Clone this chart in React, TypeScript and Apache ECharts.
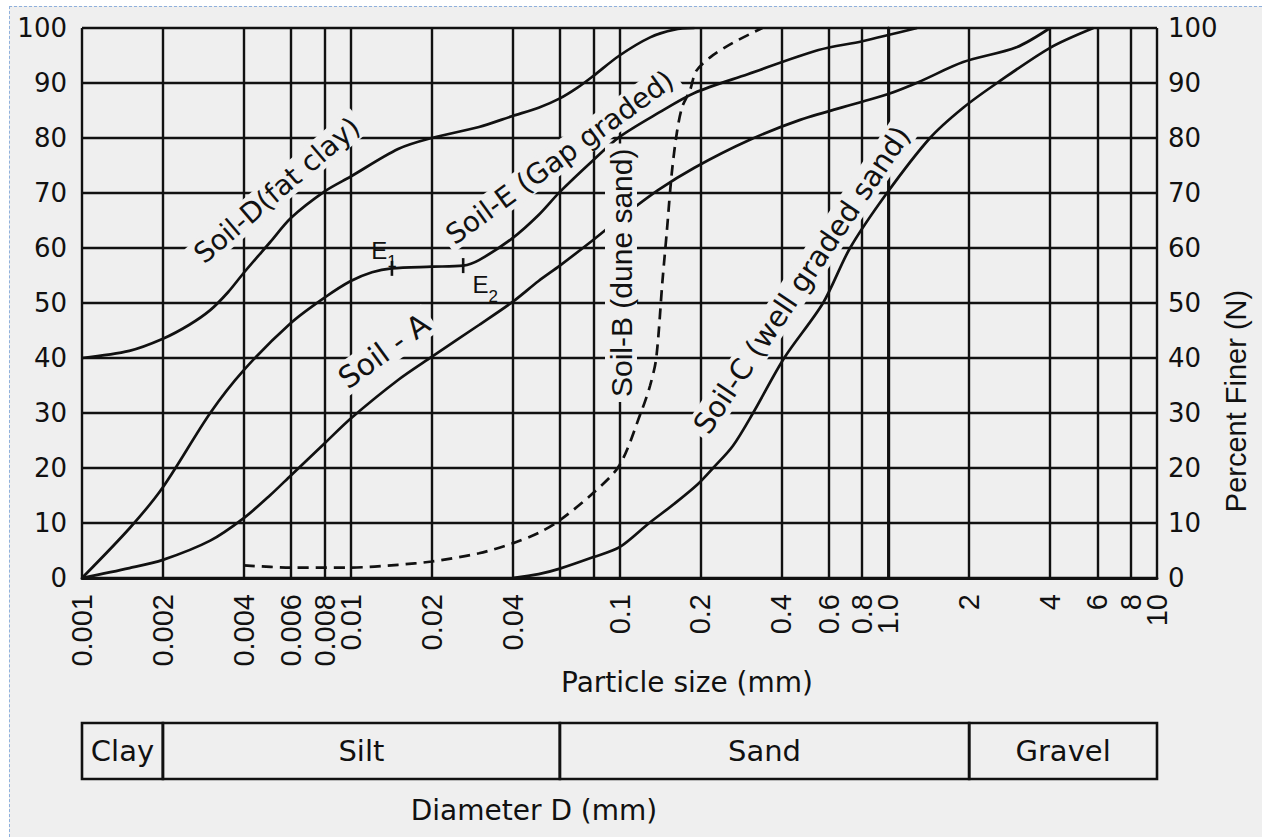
import React, { useEffect, useRef } from 'react';
import * as echarts from 'echarts';

// ---- Axis ticks (particle size, mm) ----
const gridValues = [0.001, 0.002, 0.004, 0.006, 0.008, 0.01, 0.02, 0.04, 0.06, 0.08, 0.1, 0.2, 0.4, 0.6, 0.8, 1, 2, 4, 6, 8, 10];
const labelValues = [0.001, 0.002, 0.004, 0.006, 0.008, 0.01, 0.02, 0.04, 0.1, 0.2, 0.4, 0.6, 0.8, 1, 2, 4, 6, 8, 10];
const labelTexts = ['0.001', '0.002', '0.004', '0.006', '0.008', '0.01', '0.02', '0.04', '0.1', '0.2', '0.4', '0.6', '0.8', '1.0', '2', '4', '6', '8', '10'];

// ---- Curves: [diameter mm, percent finer] ----
const soilA: [number, number][] = [
  [0.001, 0], [0.0015, 1.8], [0.002, 3.3], [0.003, 6.8], [0.004, 10.9], [0.005, 15], [0.006, 18.7], [0.008, 24.5],
  [0.01, 29], [0.015, 36], [0.02, 40.2], [0.03, 46], [0.04, 50.2], [0.05, 54], [0.06, 56.8], [0.08, 61.5], [0.1, 65.3],
  [0.14, 70.6], [0.19, 74.6], [0.3, 79.5], [0.47, 83.3], [0.8, 86.6], [1, 88], [1.3, 90.2], [1.9, 93.8], [3, 96.5], [4, 100],
];
const soilB: [number, number][] = [
  [0.004, 2.3], [0.006, 1.9], [0.01, 1.9], [0.015, 2.4], [0.02, 3], [0.03, 4.5], [0.04, 6.3], [0.05, 8.2], [0.06, 10.5],
  [0.08, 15.5], [0.1, 20.5], [0.12, 30], [0.13, 35], [0.137, 40], [0.1445, 54], [0.15, 63], [0.1565, 73.6], [0.1635, 81],
  [0.171, 85.6], [0.183, 88.7], [0.193, 92.2], [0.218, 94.7], [0.264, 97.3], [0.34, 100],
];
const soilC: [number, number][] = [
  [0.04, 0], [0.05, 0.7], [0.06, 1.7], [0.08, 3.8], [0.1, 5.6], [0.129, 10], [0.16, 13.5], [0.195, 17], [0.223, 20],
  [0.264, 24], [0.314, 30], [0.41, 40], [0.572, 50], [0.721, 60], [0.989, 70], [1.43, 80], [1.9, 85.5], [2.54, 90],
  [4, 96.4], [5.8, 100],
];
const soilD: [number, number][] = [
  [0.001, 40], [0.0015, 41.3], [0.002, 43.5], [0.0025, 46], [0.003, 48.7], [0.0035, 52], [0.004, 55.5], [0.005, 61],
  [0.006, 65.5], [0.008, 70.3], [0.01, 73], [0.015, 78], [0.02, 80], [0.03, 82], [0.04, 84], [0.05, 85.5], [0.06, 87.2],
  [0.07, 89.2], [0.08, 91.3], [0.1, 95], [0.13, 98.3], [0.16, 99.7], [0.19, 100],
];
const soilE: [number, number][] = [
  [0.001, 0], [0.0015, 9], [0.002, 16.5], [0.003, 30], [0.004, 37.8], [0.006, 46.4], [0.008, 51], [0.01, 54],
  [0.012, 55.6], [0.0142, 56.3], [0.02, 56.6], [0.0262, 56.8], [0.03, 57.8], [0.04, 61.8], [0.05, 66], [0.06, 70.2],
  [0.08, 76], [0.1, 80.2], [0.14, 84.6], [0.19, 88.2], [0.3, 91.6], [0.55, 96], [0.8, 97.6], [1.28, 100],
];

// ---- Annotations (anchored in data space) ----
const curveLabels = ['Soil-D(fat clay)', 'Soil-E (Gap graded)', 'Soil - A', 'Soil-B (dune sand)', 'Soil-C (well graded sand)'];
const curveLabelAnchors: [number, number][] = [[0.00531, 70.5], [0.06, 76.5], [0.0133, 41.3], [0.1013, 55.5], [0.477, 54.2]];
const eMarkNames = ['1', '2'];
const eMarkPoints: [number, number][] = [[0.01423, 56.3], [0.0262, 56.8]];

// ---- Soil classification band ----
const bandNames = ['Clay', 'Silt', 'Sand', 'Gravel'];
const bandEdges = [0.001, 0.002, 0.06, 2, 10];

const lg = (d: number) => Math.log10(d);
const INK = '#111111';
const BG = '#efefef';
const HF = 'DejaVu Sans';
const VF = 'Liberation Sans';

function buildOption() {
  const curve = (name: string, data: [number, number][], dashed = false) => ({
    type: 'line',
    name,
    xAxisIndex: 0,
    yAxisIndex: 0,
    data: data.map(([d, p]) => [lg(d), p]),
    showSymbol: false,
    symbol: 'none',
    smooth: 0.3,
    silent: true,
    z: 3,
    lineStyle: { color: INK, width: 2.7, type: dashed ? [11, 7] : 'solid' },
  });

  const fmt = (v: number) => {
    const i = labelValues.findIndex((t) => Math.abs(lg(t) - v) < 1e-6);
    return i >= 0 ? labelTexts[i] : '';
  };
  const lastVal = labelValues[labelValues.length - 1];
  const tickLabelStyle = {
    rotate: 90,
    margin: 16,
    fontFamily: VF,
    fontSize: 29,
    color: INK,
    showMinLabel: true,
    showMaxLabel: true,
    hideOverlap: false,
    formatter: fmt,
  };

  const labelRot = [40.5, 36, 36, 90, 56];
  const labelFont = [HF, HF, HF, VF, HF];
  const labelSize = [28, 28, 30, 30, 29];

  return {
    animation: false,
    backgroundColor: 'transparent',
    textStyle: { fontFamily: HF },
    grid: [
      { left: 82, right: 105, top: 28, bottom: 259, containLabel: false, outerBoundsMode: 'none' },
      { left: 82, right: 105, top: 723, height: 56, containLabel: false, outerBoundsMode: 'none' },
    ],
    xAxis: [
      {
        type: 'value',
        gridIndex: 0,
        min: -3,
        max: 1,
        axisLine: { show: true, onZero: false, lineStyle: { color: INK, width: 3 } },
        axisTick: { show: false, customValues: gridValues.map(lg) },
        splitLine: { show: true, lineStyle: { color: INK, width: 2.4 } },
        axisLabel: { ...tickLabelStyle, customValues: labelValues.filter((v) => v !== lastVal).map(lg) },
      },
      {
        type: 'value',
        gridIndex: 0,
        position: 'bottom',
        min: -3,
        max: 1,
        axisLine: { show: false },
        axisTick: { show: false },
        splitLine: { show: false },
        axisLabel: { ...tickLabelStyle, customValues: [lg(lastVal)] },
      },
      { type: 'value', gridIndex: 1, min: -3, max: 1, show: false },
    ],
    yAxis: [
      {
        type: 'value',
        gridIndex: 0,
        min: 0,
        max: 100,
        interval: 10,
        position: 'left',
        axisLine: { show: true, lineStyle: { color: INK, width: 2.6 } },
        axisTick: { show: false },
        splitLine: { show: true, lineStyle: { color: INK, width: 2.4 } },
        axisLabel: { margin: 15, fontFamily: HF, fontSize: 26, color: INK },
      },
      {
        type: 'value',
        gridIndex: 0,
        min: 0,
        max: 100,
        interval: 10,
        position: 'right',
        axisLine: { show: true, lineStyle: { color: INK, width: 2.6 } },
        axisTick: { show: false },
        splitLine: { show: false },
        axisLabel: { margin: 11, fontFamily: HF, fontSize: 26, color: INK },
      },
      { type: 'value', gridIndex: 1, min: 0, max: 1, show: false },
    ],
    graphic: [
      {
        type: 'text',
        x: 687,
        y: 682,
        silent: true,
        style: { text: 'Particle size (mm)', font: `28px "${HF}"`, fill: INK, align: 'center', verticalAlign: 'middle' },
      },
      {
        type: 'text',
        x: 534,
        y: 810,
        silent: true,
        style: { text: 'Diameter D (mm)', font: `28px "${HF}"`, fill: INK, align: 'center', verticalAlign: 'middle' },
      },
      {
        type: 'text',
        x: 1236,
        y: 401,
        rotation: Math.PI / 2,
        silent: true,
        style: { text: 'Percent Finer (N)', font: `29px "${VF}"`, fill: INK, align: 'center', verticalAlign: 'middle' },
      },
    ],
    series: [
      curve('Soil-A', soilA),
      curve('Soil-B', soilB, true),
      curve('Soil-C', soilC),
      curve('Soil-D', soilD),
      curve('Soil-E', soilE),
      {
        type: 'scatter',
        name: 'E marks',
        xAxisIndex: 0,
        yAxisIndex: 0,
        symbol: 'rect',
        symbolSize: [2.6, 15],
        itemStyle: { color: INK, opacity: 1 },
        silent: true,
        z: 6,
        data: eMarkPoints.map(([d, p], i) => ({
          value: [lg(d), p],
          label: {
            show: true,
            position: 'inside',
            offset: i === 0 ? [-8, -18] : [22, 19],
            formatter: `{a|E}{b|${eMarkNames[i]}}`,
            rich: {
              a: { fontFamily: VF, fontSize: 24, color: INK, lineHeight: 26 },
              b: { fontFamily: VF, fontSize: 17, color: INK, verticalAlign: 'bottom', lineHeight: 17, padding: [0, 0, -7, 0] },
            },
          },
        })),
      },
      {
        type: 'scatter',
        name: 'labels',
        xAxisIndex: 0,
        yAxisIndex: 0,
        symbolSize: 0,
        silent: true,
        z: 10,
        itemStyle: { opacity: 1 },
        data: curveLabelAnchors.map(([d, p], i) => ({
          value: [lg(d), p],
          label: {
            show: true,
            position: 'inside',
            formatter: curveLabels[i],
            rotate: labelRot[i],
            fontFamily: labelFont[i],
            fontSize: labelSize[i],
            color: INK,
            opacity: 1,
            backgroundColor: BG,
            padding: [1, 5],
          },
        })),
      },
      {
        type: 'scatter',
        name: 'bands',
        xAxisIndex: 2,
        yAxisIndex: 2,
        data: [[0, 0.5]],
        symbolSize: 0,
        silent: true,
        markArea: {
          silent: true,
          itemStyle: { color: 'transparent', borderColor: INK, borderWidth: 2.6 },
          label: { show: true, position: 'inside', fontFamily: HF, fontSize: 29, color: INK },
          data: bandNames.map((n, i) => [
            { name: n, xAxis: lg(bandEdges[i]), yAxis: 0 },
            { xAxis: lg(bandEdges[i + 1]), yAxis: 1 },
          ]),
        },
      },
    ],
  };
}

export default function App() {
  const ref = useRef<HTMLDivElement>(null);
  useEffect(() => {
    if (!ref.current) return;
    const chart = echarts.init(ref.current, null, { renderer: 'svg' });
    chart.setOption(buildOption() as any);
    return () => chart.dispose();
  }, []);
  return (
    <div style={{ position: 'fixed', left: 0, top: 0, width: 1262, height: 837, background: '#ffffff', overflow: 'hidden' }}>
      <div
        style={{
          position: 'absolute',
          left: 9,
          top: 6,
          right: 0,
          bottom: 0,
          background: BG,
          borderTop: '1px dashed #8fb0dc',
          borderLeft: '1px dashed #8fb0dc',
        }}
      />
      <div ref={ref} style={{ position: 'absolute', left: 0, top: 0, width: 1262, height: 837 }} />
    </div>
  );
}
